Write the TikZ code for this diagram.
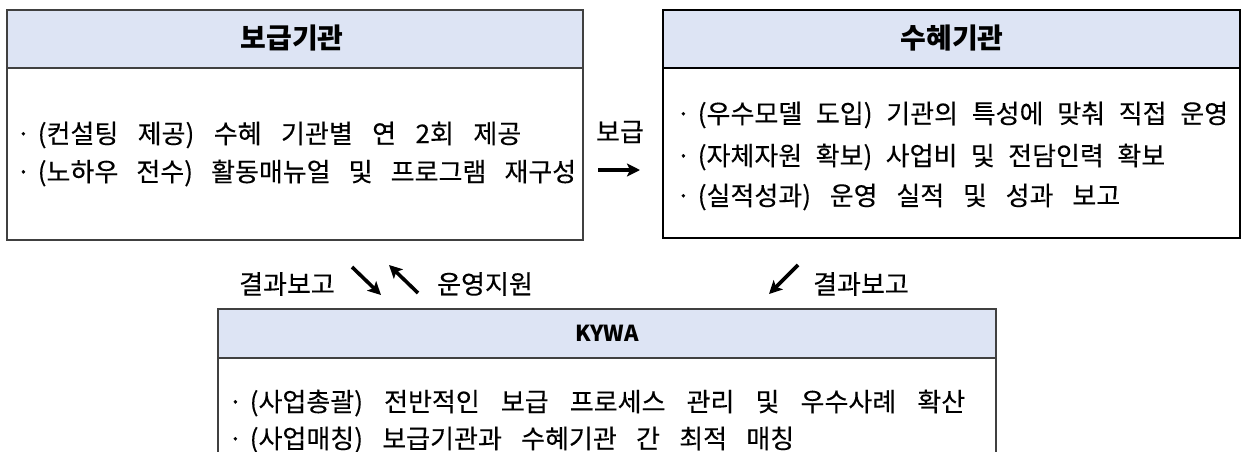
\documentclass[tikz,border=0pt]{standalone}
\usepackage{fontspec}
\usetikzlibrary{arrows.meta}
\setmainfont{Noto Sans CJK KR}
\newfontfamily\bodyfont[FakeBold=0.25]{Noto Sans CJK KR}
\definecolor{hdrfill}{HTML}{DDE4F4}
\definecolor{boxgray}{HTML}{404040}
\newcommand{\jline}[2]{\makebox[#1pt][s]{·\hspace{7pt}#2}}
\begin{document}
\begin{tikzpicture}[x=1pt,y=-1pt,
  body/.style={anchor=west,inner sep=0pt,font=\fontsize{26}{26}\selectfont\bodyfont},
  hdr/.style={inner sep=0pt,font=\fontsize{28}{28}\selectfont\bfseries},
  lbl/.style={inner sep=0pt,font=\fontsize{26}{26}\selectfont\bodyfont},
  glypharrow/.style={line width=3.6pt,-{Stealth[length=13pt,width=13pt,inset=3pt]}}]
\useasboundingbox (0,0) rectangle (1245,451);
% left box
\fill[hdrfill] (7,10) rectangle (583,68);
\draw[boxgray,line width=1.5pt] (7,68) -- (583,68);
\draw[boxgray,line width=1.6pt] (7,10) rectangle (583,240);
\node[hdr] (lh) at (292,38) {보급기관};
\node[body] (l1) at (16,135) {\jline{505}{(컨설팅 제공) 수혜 기관별 연 2회 제공}};
\node[body] (l2) at (16,173) {\jline{560}{(노하우 전수) 활동매뉴얼 및 프로그램 재구성}};
% right box
\fill[hdrfill] (663,10) rectangle (1240,68);
\draw[black,line width=1.2pt] (663,68) -- (1240,68);
\draw[black,line width=2.6pt] (663,10) rectangle (1240,238);
\node[hdr] (rh) at (952,38) {수혜기관};
\node[body] (r1) at (676,115) {\jline{552}{(우수모델 도입) 기관의 특성에 맞춰 직접 운영}};
\node[body] (r2) at (676,157) {\jline{489}{(자체자원 확보) 사업비 및 전담인력 확보}};
\node[body] (r3) at (676,197) {\jline{444}{(실적성과) 운영 실적 및 성과 보고}};
% middle label
\node[lbl] (bg) at (620,132) {보급};
\coordinate (ba0) at (598,170);
\coordinate (ba1) at (640,170);
\draw[glypharrow] (ba0) -- (ba1);
% bottom box
\fill[hdrfill] (218,309) rectangle (996,358);
\draw[boxgray,line width=1.2pt] (218,358) -- (996,358);
\draw[boxgray,line width=1.6pt] (218,455) -- (218,309) -- (996,309) -- (996,455);
\node[inner sep=0pt,font=\fontsize{22}{22}\selectfont\bfseries] (kh) at (607,333) {KYWA};
\node[body] (k1) at (228,403) {\jline{737}{(사업총괄) 전반적인 보급 프로세스 관리 및 우수사례 확산}};
\node[body] (k2) at (228,440) {\jline{566}{(사업매칭) 보급기관과 수혜기관 간 최적 매칭}};
% labels row
\node[lbl] (t1) at (287,284) {결과보고};
\coordinate (d1a) at (352,267);
\coordinate (d1b) at (381,295);
\draw[glypharrow] (d1a) -- (d1b);
\coordinate (d2a) at (418,293);
\coordinate (d2b) at (389,265);
\draw[glypharrow] (d2a) -- (d2b);
\node[lbl] (t2) at (485,284) {운영지원};
\coordinate (d3a) at (798,265);
\coordinate (d3b) at (769,294);
\draw[glypharrow] (d3a) -- (d3b);
\node[lbl] (t3) at (861,284) {결과보고};
\end{tikzpicture}
\end{document}
